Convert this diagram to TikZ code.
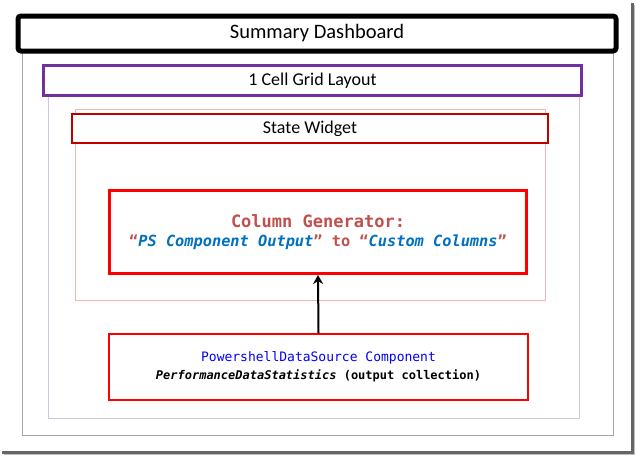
\documentclass[tikz,border=0pt]{standalone}
\usepackage{fontspec}
\setmainfont{Carlito}
\setmonofont{DejaVu Sans Mono}
\usetikzlibrary{arrows.meta}
\definecolor{cgred}{HTML}{C0504D}
\definecolor{cgblue}{HTML}{0070C0}
\definecolor{dsblue}{HTML}{0000FF}
\definecolor{swred}{HTML}{C00000}
\definecolor{gridpurple}{HTML}{7030A0}
\definecolor{lightpurple}{HTML}{D2C2E6}
\definecolor{lightred}{HTML}{F2B4B4}
\definecolor{framegray}{HTML}{A6A6A6}
\tikzset{
  box/.style={draw, inner sep=0pt, align=center, fill=white},
  titlebox/.style={box, line width=5pt, rounded corners=3pt, font=\fontsize{20.5}{24}\selectfont},
  gridbox/.style={box, draw=gridpurple, line width=3pt, font=\fontsize{18}{22}\selectfont},
  widgetbox/.style={box, draw=swred, line width=2.5pt, font=\fontsize{18}{22}\selectfont},
  genbox/.style={box, draw=red, line width=3pt},
  srcbox/.style={box, draw=red, line width=1.5pt},
  container/.style={line width=1pt},
  flow/.style={draw=black, line width=2pt, -{Stealth[length=9pt,width=10pt]}}
}
\begin{document}
\begin{tikzpicture}[x=1pt,y=-1pt]
\useasboundingbox (0,0) rectangle (636,455);
% screenshot shadow
\draw[black!60, line width=2.5pt] (632.5,3) -- (632.5,452.5) -- (2,452.5);
\draw[black!25, line width=1pt] (634.5,5) -- (634.5,454.5) -- (4,454.5);
% containers
\draw[container, draw=framegray] (22,33) rectangle (613,435);
\draw[container, draw=lightpurple] (48,70) rectangle (579,418);
\draw[container, draw=lightred] (75,109) rectangle (545,300);
% boxes
\node[titlebox, minimum width=598pt, minimum height=35pt] (dash) at (317,33.5) {Summary Dashboard};
\node[gridbox, minimum width=538pt, minimum height=30pt] (grid) at (312.5,80.5) {1 Cell Grid Layout};
\node[widgetbox, minimum width=476pt, minimum height=29pt] (widget) at (310,128.5) {State Widget};
\node[genbox, minimum width=417pt, minimum height=83pt] (gen) at (318,232)
  {\fontsize{17}{21}\selectfont\ttfamily\bfseries\color{cgred}Column Generator:\\[7pt]
   \fontsize{15.3}{19}\selectfont\ttfamily\bfseries\color{cgred}“\textcolor{cgblue}{\itshape PS Component Output}” to “\textcolor{cgblue}{\itshape Custom Columns}”};
\node[srcbox, minimum width=419pt, minimum height=66pt] (src) at (318.5,367)
  {\fontsize{13}{18}\selectfont\ttfamily\color{dsblue}PowershellDataSource Component\\[5pt]
   \fontsize{12}{16}\selectfont\ttfamily\bfseries\textit{PerformanceDataStatistics} (output collection)};
% connector
\draw[flow] (src.north) -- (gen.south);
\end{tikzpicture}
\end{document}
